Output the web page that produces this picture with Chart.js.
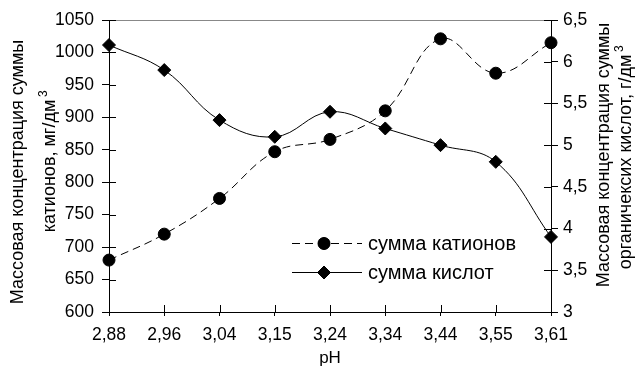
<!DOCTYPE html>
<html>
<head>
<meta charset="utf-8">
<script src="https://cdn.jsdelivr.net/npm/chart.js@4"></script>
<style>
  html, body { margin: 0; padding: 0; background: #fff; }
  #wrap { width: 643px; height: 369px; }
</style>
</head>
<body>
<div id="wrap"><canvas id="chart"></canvas></div>
<script>
const phLabels = ['2,88', '2,96', '3,04', '3,15', '3,24', '3,34', '3,44', '3,55', '3,61'];
const cations = [680, 720, 775, 847, 866, 910, 1021, 968, 1015];
const acids = [6.2, 5.9, 5.3, 5.1, 5.4, 5.2, 5.0, 4.8, 3.9];

const FONT = 'Liberation Sans, Arial, sans-serif';
const comma = v => String(v).replace('.', ',');

// inner halves of the crossing ticks, grey top line, axis titles and legend
const extras = {
    id: 'extras',
    afterDraw(chart) {
        const ctx = chart.ctx;
        const a = chart.chartArea;
        const x = chart.scales.x, y = chart.scales.y, y1 = chart.scales.y1;
        ctx.save();
        ctx.strokeStyle = '#888';
        ctx.lineWidth = 1;
        ctx.beginPath();
        ctx.moveTo(a.left, a.top + 0.5);
        ctx.lineTo(a.right, a.top + 0.5);
        ctx.stroke();

        ctx.strokeStyle = '#000';
        ctx.beginPath();
        y.ticks.forEach(t => {
            const py = Math.round(y.getPixelForValue(t.value)) + 0.5;
            ctx.moveTo(a.left, py); ctx.lineTo(a.left + 7, py);
        });
        y1.ticks.forEach(t => {
            const py = Math.round(y1.getPixelForValue(t.value)) + 0.5;
            ctx.moveTo(a.right, py); ctx.lineTo(a.right - 7, py);
        });
        phLabels.forEach((l, i) => {
            const px = Math.round(x.getPixelForValue(i)) + 0.5;
            ctx.moveTo(px, a.bottom); ctx.lineTo(px, a.bottom - 7);
        });
        ctx.stroke();

        // rotated axis titles
        ctx.fillStyle = '#000';
        ctx.textAlign = 'center';
        ctx.textBaseline = 'middle';
        const vtext = (txt, cx, cy, size) => {
            ctx.save();
            ctx.translate(cx, cy);
            ctx.rotate(-Math.PI / 2);
            ctx.font = size + 'px ' + FONT;
            ctx.fillText(txt, 0, 0);
            const w = ctx.measureText(txt).width;
            ctx.restore();
            return w;
        };
        vtext('Массовая концентрация суммы', 18, 172, 18);
        let w = vtext('катионов, мг/дм', 50, 166, 18);
        vtext('3', 44, 166 - w / 2 - 6, 12);
        vtext('Массовая концентрация суммы', 604, 155, 18);
        w = vtext('органичексих кислот, г/дм', 626, 162, 18);
        vtext('3', 620, 162 - w / 2 - 6, 12);

        // legend inside the plot
        const items = [
            { text: 'сумма катионов', y: 243, dash: [8, 5], style: 'circle', r: 6 },
            { text: 'сумма кислот', y: 272, dash: [], style: 'rectRot', r: 6.5 }
        ];
        items.forEach(it => {
            ctx.setLineDash(it.dash);
            ctx.lineWidth = 1;
            ctx.beginPath();
            ctx.moveTo(292, it.y + 0.5);
            ctx.lineTo(362, it.y + 0.5);
            ctx.stroke();
            ctx.setLineDash([]);
            Chart.helpers.drawPoint(ctx, { pointStyle: it.style, radius: it.r, borderWidth: 1 }, 324, it.y + 0.5);
            ctx.fill();
            ctx.font = '20px ' + FONT;
            ctx.textAlign = 'left';
            ctx.fillText(it.text, 368, it.y + 1);
        });
        ctx.restore();
    }
};

new Chart(document.getElementById('chart'), {
    type: 'line',
    data: {
        labels: phLabels,
        datasets: [{
            label: 'сумма катионов',
            data: cations,
            yAxisID: 'y',
            borderColor: '#000',
            backgroundColor: '#000',
            borderWidth: 1,
            borderDash: [8, 5],
            tension: 0.4,
            pointStyle: 'circle',
            pointRadius: 6,
            pointBorderWidth: 1
        }, {
            label: 'сумма кислот',
            data: acids,
            yAxisID: 'y1',
            borderColor: '#000',
            backgroundColor: '#000',
            borderWidth: 1,
            tension: 0.4,
            pointStyle: 'rectRot',
            pointRadius: 6.5,
            pointBorderWidth: 1
        }]
    },
    options: {
        responsive: true,
        maintainAspectRatio: false,
        animation: false,
        layout: { padding: { top: 20, left: 0, right: 0, bottom: 0 } },
        plugins: {
            legend: { display: false },
            tooltip: { enabled: false }
        },
        scales: {
            x: {
                offset: false,
                grid: { drawOnChartArea: false, tickLength: 4, color: '#000' },
                border: { color: '#000' },
                ticks: { color: '#000', font: { family: FONT, size: 17.5 }, padding: 9, maxRotation: 0, autoSkip: false },
                title: { display: true, text: 'pH', color: '#000', font: { family: FONT, size: 17 }, padding: { top: 0, bottom: 0 } },
                afterFit: s => { s.height = 57; }
            },
            y: {
                position: 'left',
                min: 600,
                max: 1050,
                grid: { drawOnChartArea: false, tickLength: 7, color: '#000' },
                border: { color: '#000' },
                ticks: { stepSize: 50, color: '#000', font: { family: FONT, size: 17.5 }, padding: 8, callback: v => String(v) },
                afterFit: s => { s.width = 109; }
            },
            y1: {
                position: 'right',
                min: 3,
                max: 6.5,
                grid: { drawOnChartArea: false, tickLength: 7, color: '#000' },
                border: { color: '#000' },
                ticks: { stepSize: 0.5, color: '#000', font: { family: FONT, size: 17.5 }, padding: 5, callback: v => comma(v) },
                afterFit: s => { s.width = 92; }
            }
        }
    },
    plugins: [extras]
});
</script>
</body>
</html>
